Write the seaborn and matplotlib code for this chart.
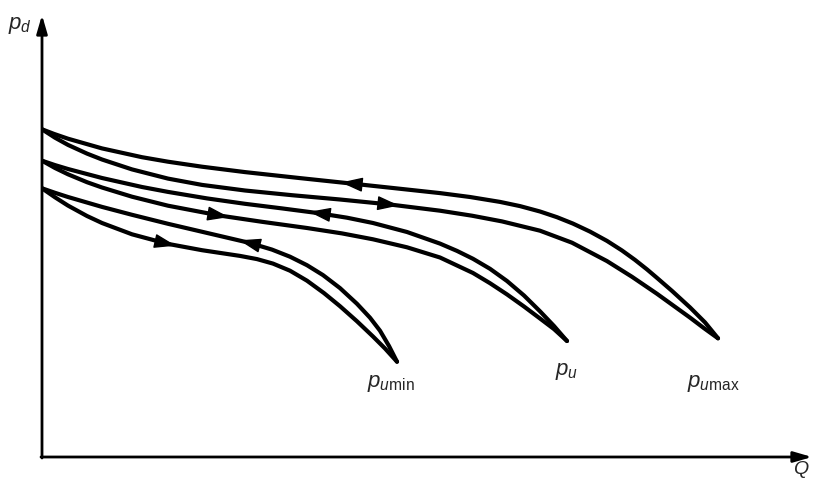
# Pump delivery pressure vs flow: three hysteresis loops for p_u min / p_u / p_u max

import numpy as np
import pandas as pd
import matplotlib
matplotlib.use("Agg")
import matplotlib.pyplot as plt
import seaborn as sns

# Curve readings (Q, p_d) in arbitrary units, origin at the axes corner
max_up_q = [0, 12, 26, 60, 100, 126, 160, 203, 258, 308, 350, 398, 428, 458, 478, 498,
            515, 531, 548, 565, 580, 593, 605, 615, 630, 648, 663, 676]
max_up_p = [327.7, 323.1, 318.3, 308.6, 299.8, 295.3, 290.3, 284.9, 278.9, 273.6, 269.1, 263.9,
            260.0, 255.1, 250.9, 245.5, 239.8, 233.4, 225.4, 216.1, 206.5, 197.1, 187.6, 179.1,
            166.1, 149.6, 134.6, 118.7]
max_lo_q = [0, 13, 26, 45, 60, 90, 126, 160, 203, 250, 298, 348, 398, 430, 460, 498, 530,
            565, 590, 615, 648, 662, 676]
max_lo_p = [327.7, 319.3, 312.1, 303.4, 297.5, 287.6, 278.4, 272.1, 266.5, 261.8, 257.5, 252.5,
            246.3, 241.3, 235.6, 226.3, 214.3, 195.9, 180.2, 163.2, 139.4, 128.8, 118.7]

mid_up_q = [0, 13, 26, 60, 100, 126, 165, 203, 240, 276, 305, 331, 365, 398, 415, 431, 448,
            465, 482, 498, 512, 525]
mid_up_p = [296.3, 291.9, 288.0, 279.0, 270.0, 265.1, 258.6, 253.2, 248.6, 243.9, 239.3, 234.0,
            225.0, 213.4, 206.1, 198.2, 188.2, 176.0, 161.5, 145.7, 131.0, 116.0]
mid_lo_q = [0, 13, 26, 45, 60, 90, 126, 178, 220, 265, 300, 331, 365, 398, 431, 448, 465,
            482, 498, 512, 525]
mid_lo_p = [296.3, 289.0, 282.7, 274.8, 269.5, 260.3, 251.3, 241.4, 235.2, 229.0, 223.6, 217.7,
            209.7, 199.5, 184.0, 173.8, 162.6, 150.5, 138.5, 127.9, 116.0]

min_up_q = [0, 13, 26, 60, 90, 126, 170, 208, 230, 248, 265, 281, 298, 315, 328, 338, 347, 355]
min_up_p = [268.7, 264.2, 260.0, 250.1, 242.2, 233.2, 222.9, 214.0, 207.4, 200.3, 191.8, 181.9,
            168.9, 153.2, 139.3, 126.3, 111.0, 95.3]
min_lo_q = [0, 13, 26, 45, 60, 90, 125, 160, 198, 215, 231, 248, 265, 282, 298, 315, 331, 343, 355]
min_lo_p = [268.7, 259.7, 251.4, 241.0, 234.0, 222.7, 213.3, 206.8, 201.1, 197.9, 193.4, 186.3,
            176.3, 163.9, 150.8, 135.7, 120.5, 108.5, 95.3]

# arrow positions along each branch (Q) and direction of travel
arrow_branch = ["max_up", "max_lo", "mid_up", "mid_lo", "min_up", "min_lo"]
arrow_q = [308, 348, 276, 178, 206, 125]
arrow_dir = [-1, 1, -1, 1, -1, 1]

# loop tip labels
tip_labels = [r"$p_{u\mathrm{min}}$", r"$p_u$", r"$p_{u\mathrm{max}}$"]
tip_label_q = [349, 525, 671]
tip_label_p = [73, 85, 73]

branches = {
    "max_up": (max_up_q, max_up_p),
    "max_lo": (max_lo_q, max_lo_p),
    "mid_up": (mid_up_q, mid_up_p),
    "mid_lo": (mid_lo_q, mid_lo_p),
    "min_up": (min_up_q, min_up_p),
    "min_lo": (min_lo_q, min_lo_p),
}
df = pd.concat(
    [pd.DataFrame({"Q": q, "p": p, "branch": name}) for name, (q, p) in branches.items()],
    ignore_index=True,
)

sns.set_style("white")
plt.rcParams["font.family"] = ["Liberation Sans", "DejaVu Sans"]
plt.rcParams["mathtext.fontset"] = "custom"
plt.rcParams["mathtext.rm"] = "Liberation Sans"
plt.rcParams["mathtext.it"] = "Liberation Sans:italic"

fig = plt.figure(figsize=(8.13, 4.82), dpi=100)
ax = fig.add_axes([42 / 813, 25 / 482, 771 / 813, 442 / 482])

sns.lineplot(data=df, x="Q", y="p", units="branch", estimator=None, sort=False,
             color="black", lw=3, solid_joinstyle="round", solid_capstyle="round",
             legend=False, ax=ax)

ax.set_xlim(0, 771)
ax.set_ylim(0, 442)
ax.axis("off")

# direction arrows on the curves
for name, q0, d in zip(arrow_branch, arrow_q, arrow_dir):
    q, p = branches[name]
    p0 = np.interp(q0, q, p)
    slope = (np.interp(q0 + 8, q, p) - np.interp(q0 - 8, q, p)) / 16
    ux, uy = d / np.hypot(1, slope), d * slope / np.hypot(1, slope)
    ax.annotate("", xy=(q0 + 9 * ux, p0 + 9 * uy), xytext=(q0 - 9 * ux, p0 - 9 * uy),
                arrowprops=dict(arrowstyle="-|>,head_length=1.35,head_width=0.45",
                                color="black", lw=1, mutation_scale=10,
                                shrinkA=0, shrinkB=0))

# axes with arrow heads
axis_style = dict(arrowstyle="-|>,head_length=1.1,head_width=0.32", color="black",
                  lw=2, mutation_scale=10, shrinkA=0, shrinkB=0)
ax.annotate("", xy=(0, 442), xytext=(0, -1), arrowprops=axis_style, annotation_clip=False)
ax.annotate("", xy=(770, 0), xytext=(-1, 0), arrowprops=axis_style, annotation_clip=False)

ax.text(-22, 431, r"$p_d$", fontsize=16, ha="center", va="center", clip_on=False)
ax.text(759, -12, r"$Q$", fontsize=14, ha="center", va="center", clip_on=False)

for lab, q, p in zip(tip_labels, tip_label_q, tip_label_p):
    ax.text(q, p, lab, fontsize=16, ha="center", va="center")

fig.savefig("out.png", dpi=100)
